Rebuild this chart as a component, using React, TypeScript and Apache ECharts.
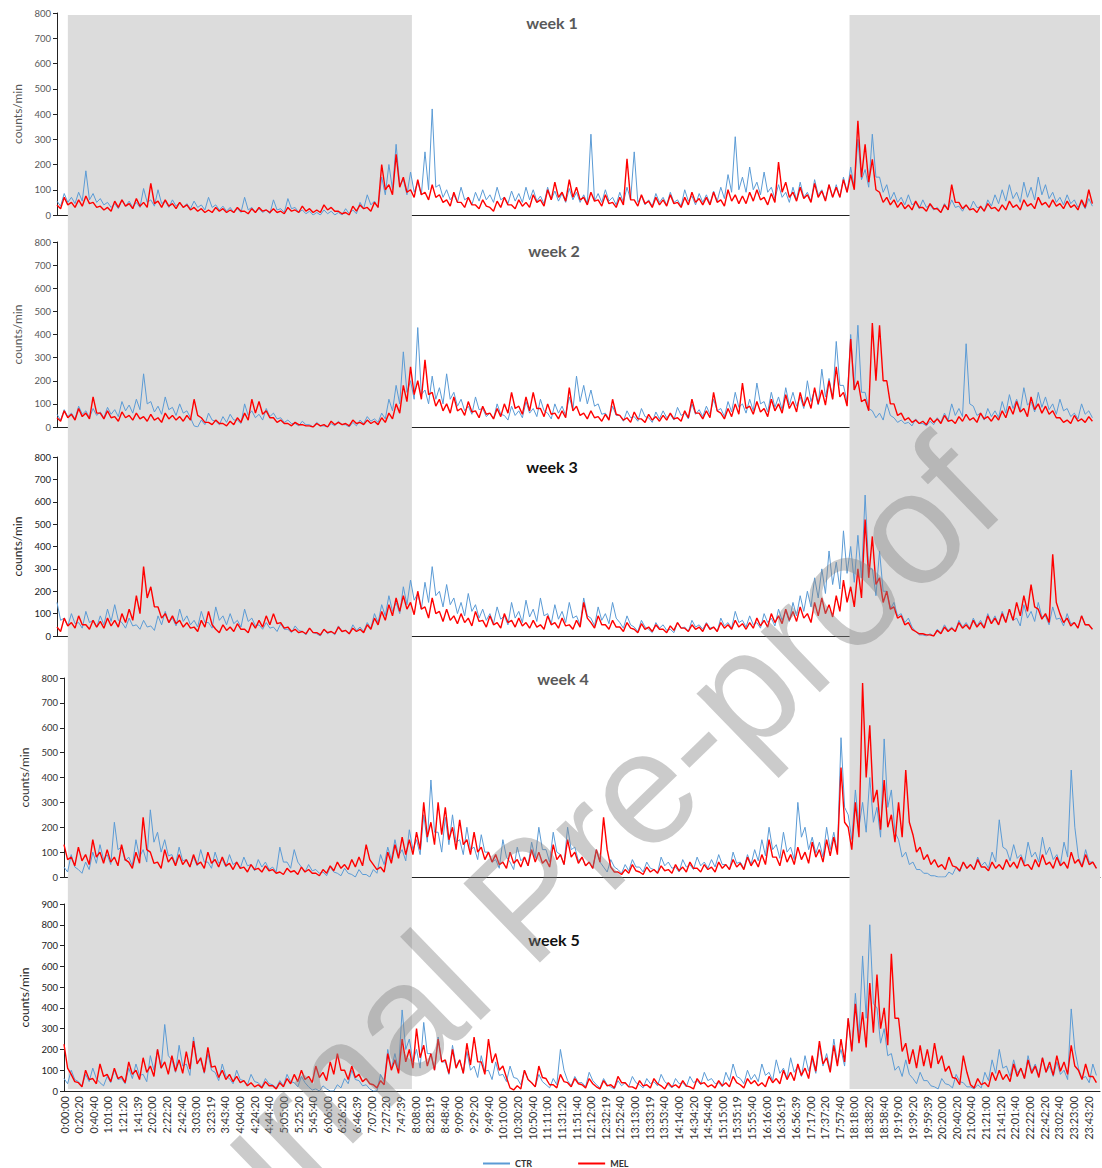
import React, { useEffect, useRef } from "react";
import * as echarts from "echarts";

// ---------- data ----------
const tickLabels = [
  "0:00:00","0:20:20","0:40:40","1:01:00","1:21:20","1:41:39","2:02:00","2:22:20","2:42:40","3:03:00",
  "3:23:19","3:43:40","4:04:00","4:24:20","4:44:40","5:05:00","5:25:20","5:45:40","6:06:00","6:26:20",
  "6:46:39","7:07:00","7:27:20","7:47:39","8:08:00","8:28:19","8:48:40","9:09:00","9:29:20","9:49:40",
  "10:10:00","10:30:20","10:50:40","11:11:00","11:31:20","11:51:40","12:12:00","12:32:19","12:52:40","13:13:00",
  "13:33:19","13:53:40","14:14:00","14:34:20","14:54:40","15:15:00","15:35:19","15:55:40","16:16:00","16:36:19",
  "16:56:39","17:17:00","17:37:20","17:57:40","18:18:00","18:38:20","18:58:40","19:19:00","19:39:20","19:59:39",
  "20:20:00","20:40:20","21:00:40","21:21:00","21:41:20","22:01:40","22:22:00","22:42:20","23:02:40","23:23:00",
  "23:43:20",
];
const TICK_STEP = 1220; // seconds between tick labels
const SAMPLE_STEP = 600; // seconds between upper-envelope readings (10 min)
const HALF_STEP = 300; // lower-envelope readings sit between them
const DAY = 86400;

const weekNames = ["week 1", "week 2", "week 3", "week 4", "week 5"];
const yMaxes = [800, 800, 800, 800, 900];
const nightBands = [[900, 29400], [65650, 86400]];

// upper readings (every 10 min, from 0:00)
const ctrW1 = [
  55,85,70,90,175,85, 65,50,45,60,55,50, 105,60,100,55,60,50, 45,55,40,70,40,35,
  30,25,70,30,25,20, 60,25,65,30,20,15, 10,20,15,10,25,20, 50,80,55,150,200,280,
  140,170,130,250,420,120, 100,80,110,70,90,100, 80,110,70,95,85,110, 100,75,110,95,85,105,
  90,80,320,85,100,70, 90,110,250,75,60,85, 70,90,60,100,75,85, 80,95,110,160,310,150,
  190,130,170,110,120,90, 110,130,90,140,100,120, 120,150,190,300,180,320, 150,120,90,70,80,50,
  60,40,30,45,60,35, 40,55,30,60,80,100, 120,90,130,110,150,120, 90,70,80,60,50,65,
];
const melW1 = [
  40,70,50,60,75,50, 35,30,55,60,45,65, 50,125,55,60,45,50, 40,30,25,20,30,25,
  20,30,15,25,30,20, 25,15,30,20,35,25, 20,40,30,15,10,35, 40,30,50,200,120,240,
  150,100,140,90,120,80, 60,90,50,70,40,60, 30,55,70,40,60,50, 80,60,100,130,90,140,
  110,70,90,60,80,50, 70,223,60,80,55,70, 60,80,50,70,90,65, 70,90,60,100,80,75,
  90,100,70,85,210,130, 90,110,80,125,95,120, 110,140,160,373,280,220, 90,70,60,50,40,55,
  30,45,25,40,120,50, 40,25,35,45,30,40, 55,40,60,45,70,50, 60,45,55,40,60,100,
];
const ctrW2 = [
  55,75,60,90,70,80, 65,85,75,110,95,120, 230,110,90,130,85,100, 70,5,30,60,25,45,
  55,30,100,70,55,80, 60,40,30,15,25,10, 20,5,15,25,10,20, 30,45,35,60,120,180,
  325,200,430,160,220,170, 230,150,120,90,130,80, 60,100,50,90,70,110, 80,120,60,100,90,130,
  220,180,160,100,60,90, 50,70,45,80,40,65, 70,55,85,60,100,75, 90,120,80,110,150,100,
  120,190,110,150,130,170, 150,130,200,160,250,210, 370,180,400,440,150,70, 60,100,40,30,20,35,
  15,25,40,60,100,80, 360,90,60,80,70,110, 140,120,170,110,150,130, 100,120,80,60,100,70,
];
const melW2 = [
  40,70,55,80,60,130, 60,70,45,65,50,60, 45,55,40,60,50,45, 50,120,40,20,30,15,
  25,40,60,120,110,70, 40,30,15,20,10,5, 15,10,25,20,15,30, 20,30,25,40,60,100,
  180,260,200,290,150,120, 100,130,80,110,70,90, 60,80,100,150,90,130, 150,80,100,60,70,170,
  90,60,70,45,55,120, 50,40,65,35,55,45, 50,60,40,70,120,60, 70,150,60,80,100,190,
  90,110,80,120,100,140, 110,150,130,170,160,200, 260,150,380,200,120,450, 440,200,100,60,40,30,
  25,40,35,50,30,45, 55,40,60,45,50,70, 90,110,80,130,100,90, 70,40,30,50,35,45,
];
const ctrW3 = [
  150,80,100,60,110,70, 90,120,140,60,80,50, 70,45,90,110,80,120, 90,70,110,60,130,90,
  100,70,120,80,50,60, 40,55,30,45,20,35, 10,30,20,45,25,50, 40,60,100,140,180,150,
  220,250,190,240,310,200, 230,170,150,190,140,120, 100,130,90,150,110,160, 120,170,100,140,110,150,
  90,170,80,130,100,150, 60,90,40,70,30,60, 50,30,60,40,70,50, 60,40,80,60,110,70,
  90,60,100,80,120,110, 150,180,200,260,300,380, 330,470,400,450,630,300, 380,200,150,100,80,20,
  5,10,30,50,40,70, 60,80,70,100,90,110, 120,80,140,110,150,90, 130,80,100,60,90,50,
];
const melW3 = [
  40,80,60,90,50,70, 65,80,70,100,120,180, 310,220,130,100,90,70, 60,40,70,110,30,50,
  40,55,30,60,70,90, 100,60,40,30,20,35, 15,30,20,40,25,35, 30,50,80,110,140,170,
  180,150,200,130,170,110, 120,90,100,80,110,70, 90,60,100,70,80,60, 70,50,90,60,80,50,
  70,150,60,90,50,70, 40,60,30,55,40,50, 30,45,60,35,50,40, 55,40,60,50,70,55,
  60,80,70,100,90,120, 110,130,100,150,170,140, 180,250,220,300,520,445, 260,200,130,90,60,20,
  10,5,25,40,35,60, 50,70,60,90,80,100, 120,150,180,230,120,100, 365,100,80,60,90,50,
];
const ctrW4 = [
  40,90,30,60,100,130, 90,220,120,80,150,110, 270,180,150,90,120,70, 80,110,60,100,70,90,
  60,80,50,70,60,40, 120,60,110,40,50,30, 20,40,15,35,10,30, 10,30,90,120,150,110,
  190,150,250,390,180,240, 250,150,200,120,170,100, 70,150,60,120,80,140, 200,110,180,90,200,120,
  80,60,110,40,70,30, 50,70,40,60,30,80, 60,40,70,50,80,60, 70,90,50,100,60,90,
  110,150,200,130,180,120, 300,200,160,140,200,180, 560,250,350,300,400,280, 555,350,150,100,60,30,
  15,5,0,20,40,60, 50,80,60,100,230,110, 130,90,140,100,160,120, 90,140,430,80,110,60,
];
const melW4 = [
  130,80,120,90,150,100, 110,80,130,60,100,240, 100,60,110,80,90,70, 90,60,100,70,80,55,
  60,40,50,35,45,30, 20,35,25,40,30,15, 30,45,60,50,70,80, 130,50,40,100,130,160,
  150,180,300,220,300,280, 200,230,150,180,120,100, 90,60,100,70,80,110, 100,70,130,90,150,100,
  80,60,110,240,40,20, 30,50,20,40,30,45, 30,50,40,60,35,50, 40,60,50,70,55,80,
  70,90,150,80,110,90, 120,100,140,110,150,160, 440,200,300,780,610,350, 390,250,300,430,170,120,
  90,70,50,80,40,60, 50,70,40,60,50,70, 60,80,50,70,90,60, 80,60,100,70,90,60,
];
const ctrW5 = [
  60,100,45,80,110,40, 70,100,60,110,130,80, 170,200,320,150,220,130, 260,150,180,90,130,60,
  100,50,80,40,60,30, 50,80,40,70,20,10, 25,0,30,60,100,50, 30,0,80,200,180,390,
  250,200,330,180,260,140, 220,150,190,120,170,100, 140,80,120,60,100,40, 80,30,60,200,50,70,
  40,90,30,60,20,50, 40,70,30,60,45,80, 30,60,40,70,50,90, 60,40,90,130,60,100,
  80,130,90,150,110,160, 120,170,150,220,180,250, 200,350,470,650,800,400, 300,180,120,150,60,90,
  50,20,60,30,80,40, 20,30,90,150,200,120, 150,110,170,130,160,120, 140,100,395,110,70,130,
];
const melW5 = [
  225,80,40,100,60,130, 80,110,70,140,100,160, 120,200,140,170,150,190, 240,160,210,120,100,80,
  70,50,40,30,45,25, 40,60,80,100,70,120, 90,140,180,100,120,80, 60,30,50,180,150,250,
  200,300,220,180,250,150, 200,150,230,260,140,250, 180,120,15,25,100,40, 120,60,30,80,40,60,
  30,60,20,50,30,70, 40,20,50,30,60,25, 40,30,50,20,60,40, 30,50,40,70,30,60,
  50,40,70,60,100,90, 130,110,170,240,160,220, 250,350,420,380,520,560, 400,660,350,230,200,220,
  200,230,170,120,60,170, 30,60,40,90,100,80, 130,110,150,120,160,140, 170,140,220,100,130,70,
];

// lower readings (5 min after each upper reading)
const ctrW1Lo = [
  35,50,45,55,60,50, 40,30,25,35,30,30, 50,35,45,30,35,30, 25,30,20,30,20,15,
  10,10,20,10,10,5, 20,10,25,10,5,0, 0,5,0,0,5,5, 25,40,30,80,100,120,
  80,90,80,100,110,70, 60,50,60,40,55,60, 50,60,45,55,50,60, 55,45,60,55,50,60,
  50,45,55,50,55,40, 50,60,50,40,35,50, 40,50,35,55,40,50, 45,55,65,90,100,90,
  100,80,90,65,70,50, 60,70,55,80,60,70, 70,90,110,140,110,150, 90,60,50,40,40,25,
  30,20,10,20,30,15, 20,30,15,35,45,55, 65,50,70,60,80,65, 50,40,45,30,25,35,
];
const melW1Lo = [
  25,40,30,35,45,30, 20,15,30,35,25,35, 30,45,30,35,25,30, 20,15,10,10,15,10,
  10,15,5,10,15,10, 10,5,15,10,15,10, 10,20,15,5,0,15, 25,15,30,100,80,110,
  90,70,80,60,70,50, 35,50,30,40,25,35, 15,30,40,25,35,30, 50,35,60,70,55,70,
  60,40,55,35,45,30, 40,60,35,45,30,40, 35,45,30,40,50,40, 40,50,35,55,45,45,
  55,60,40,50,90,70, 55,65,50,70,55,70, 70,90,100,150,130,100, 50,40,30,25,20,30,
  15,25,10,20,50,25, 20,10,15,25,15,20, 30,20,35,25,40,30, 35,25,30,20,30,45,
];
const ctrW2Lo = [
  30,45,35,55,40,50, 40,55,45,70,60,75, 100,65,55,75,50,60, 40,0,10,30,10,20,
  30,15,50,40,30,45, 35,20,15,5,10,0, 5,0,5,10,0,5, 15,25,20,35,70,100,
  150,120,140,100,120,100, 120,90,70,55,75,45, 35,55,30,50,40,60, 45,70,35,60,50,75,
  110,100,90,55,35,50, 25,40,25,45,20,35, 40,30,50,35,55,45, 55,70,45,65,85,60,
  70,100,65,85,75,95, 90,80,110,95,130,120, 180,110,160,150,80,40, 30,50,20,15,5,15,
  5,10,20,30,50,45, 100,50,30,45,40,60, 80,70,95,65,85,75, 55,70,45,35,55,40,
];
const melW2Lo = [
  25,40,30,45,35,60, 35,40,25,40,30,35, 25,30,20,35,30,25, 30,50,20,10,15,5,
  10,20,30,60,55,40, 20,15,5,10,5,0, 5,0,10,10,5,15, 10,15,10,20,35,60,
  110,140,120,140,90,70, 60,70,50,65,40,55, 35,45,60,80,55,70, 80,45,55,35,40,70,
  50,35,40,25,30,55, 30,20,35,20,30,25, 30,35,25,40,60,35, 40,70,35,45,55,80,
  55,65,45,70,60,80, 65,90,80,100,95,120, 130,90,160,110,70,200, 200,100,50,30,20,15,
  10,20,15,25,15,25, 30,20,35,25,30,40, 55,65,45,75,60,55, 40,20,15,25,20,25,
];
const ctrW3Lo = [
  70,45,55,35,60,40, 50,65,70,35,45,30, 40,25,50,60,45,65, 50,40,60,35,70,50,
  55,40,65,45,30,35, 20,30,15,25,5,15, 0,10,5,20,10,25, 20,35,60,90,110,100,
  140,160,120,150,180,130, 140,100,90,110,80,70, 55,75,50,80,60,85, 65,90,55,75,60,80,
  50,90,45,70,55,80, 35,50,20,40,15,35, 25,15,35,20,40,30, 35,20,45,35,60,40,
  50,35,60,45,70,65, 90,110,130,170,190,230, 210,280,240,260,300,180, 200,120,90,60,40,5,
  0,0,15,25,20,40, 35,45,40,60,50,65, 70,45,80,65,85,50, 75,45,55,35,50,30,
];
const melW3Lo = [
  20,45,35,50,30,40, 35,45,40,60,70,100, 170,130,80,60,55,40, 35,20,40,50,15,25,
  20,30,15,35,40,50, 55,35,20,15,10,15, 5,15,10,20,10,20, 15,30,50,70,90,110,
  120,95,120,80,100,65, 70,55,60,45,65,40, 50,35,60,40,45,35, 40,30,50,35,45,30,
  40,80,35,50,30,40, 20,35,15,30,20,30, 15,25,35,20,30,20, 30,20,35,30,40,30,
  35,45,40,60,55,70, 65,80,60,90,100,85, 110,150,130,170,260,230, 150,120,80,50,30,10,
  5,0,10,20,20,35, 30,40,35,55,50,60, 70,90,110,130,75,60, 150,60,45,35,50,30,
];
const ctrW4Lo = [
  20,40,15,30,55,70, 50,110,65,45,80,60, 140,100,85,50,65,40, 45,60,35,55,40,50,
  35,45,25,40,30,20, 60,35,60,20,25,15, 5,20,5,15,0,10, 0,15,50,70,85,65,
  110,90,140,180,100,130, 140,90,110,70,100,60, 35,80,30,65,45,75, 110,60,100,50,110,65,
  45,35,60,20,40,15, 25,40,20,35,15,45, 35,20,40,30,45,35, 40,50,30,55,35,50,
  65,85,110,75,100,70, 160,110,95,80,110,100, 280,150,200,180,220,160, 280,180,80,50,30,15,
  5,0,0,10,20,35, 30,45,35,60,120,65, 75,55,80,60,90,70, 50,80,200,45,60,35,
];
const melW4Lo = [
  70,45,65,50,80,55, 60,45,70,35,55,110, 55,35,60,45,50,40, 50,35,55,40,45,30,
  35,20,30,20,25,15, 10,20,10,20,15,5, 15,25,35,30,40,45, 70,30,20,55,75,90,
  90,110,160,130,170,150, 110,130,90,100,70,60, 50,35,55,40,45,60, 55,40,70,50,80,55,
  45,35,60,110,20,10, 15,25,10,20,15,25, 15,25,20,35,20,30, 20,35,30,40,30,45,
  40,50,80,45,60,50, 70,55,80,60,85,90, 220,110,160,400,300,190, 200,140,160,220,100,70,
  50,40,30,45,25,35, 30,40,25,35,30,40, 35,45,30,40,50,35, 45,35,55,40,50,35,
];
const ctrW5Lo = [
  35,55,25,45,60,25, 40,55,35,60,75,45, 100,110,170,90,120,75, 140,85,100,50,70,35,
  55,30,45,20,35,15, 25,45,20,40,5,0, 10,0,15,35,55,25, 10,0,45,110,100,200,
  140,110,180,100,140,80, 120,85,100,65,95,55, 75,45,65,30,55,20, 45,15,30,100,25,40,
  20,50,15,30,10,25, 20,40,15,35,25,45, 15,35,20,40,30,50, 35,20,50,70,35,55,
  45,75,50,85,60,90, 70,95,85,120,100,140, 120,200,260,350,420,230, 170,100,70,80,35,50,
  25,10,35,15,45,20, 10,15,50,85,110,70, 85,60,95,75,90,70, 80,55,200,60,40,75,
];
const melW5Lo = [
  110,45,20,55,35,70, 45,60,40,80,55,90, 70,110,80,95,85,105, 130,90,115,65,55,45,
  40,25,20,15,25,10, 20,35,45,55,40,65, 50,80,100,55,65,45, 35,15,30,100,85,140,
  110,160,120,100,140,85, 110,85,125,140,80,135, 100,65,5,10,55,20, 65,30,15,45,20,35,
  15,35,10,25,15,40, 20,10,25,15,35,10, 20,15,25,10,35,20, 15,25,20,40,15,35,
  25,20,40,35,55,50, 75,60,95,130,90,120, 140,190,230,210,280,300, 220,350,190,130,110,120,
  110,130,95,65,30,90, 15,30,20,50,55,45, 70,60,85,65,90,75, 95,80,120,55,70,40,
];

const ctrWeeks = [ctrW1, ctrW2, ctrW3, ctrW4, ctrW5];
const melWeeks = [melW1, melW2, melW3, melW4, melW5];
const ctrWeeksLo = [ctrW1Lo, ctrW2Lo, ctrW3Lo, ctrW4Lo, ctrW5Lo];
const melWeeksLo = [melW1Lo, melW2Lo, melW3Lo, melW4Lo, melW5Lo];

// ---------- layout / style ----------
const panels = [
  { left: 57, top: 13, width: 1039, height: 202, title: [552, 22], tColor: "#595959", aColor: "#595959" },
  { left: 57, top: 242, width: 1039, height: 185, title: [554, 250], tColor: "#595959", aColor: "#595959" },
  { left: 57, top: 457, width: 1039, height: 179, title: [552, 466], tColor: "#111111", aColor: "#222222" },
  { left: 64, top: 678, width: 1036, height: 199, title: [563, 678], tColor: "#595959", aColor: "#333333" },
  { left: 64, top: 904, width: 1036, height: 187, title: [554, 939], tColor: "#111111", aColor: "#222222" },
];
const CTR_COLOR = "#5B9BD5";
const MEL_COLOR = "#FF0000";
const FONT = "Lato";

function labelFor(v: number): string {
  const k = Math.round(v / TICK_STEP);
  if (Math.abs(k * TICK_STEP - v) > 1) return "";
  return tickLabels[k] ?? "";
}

function toPoints(hi: number[], lo: number[]): number[][] {
  const out: number[][] = [];
  hi.forEach((v, k) => {
    out.push([k * SAMPLE_STEP, v]);
    if (lo[k] !== undefined) out.push([k * SAMPLE_STEP + HALF_STEP, lo[k]]);
  });
  return out;
}

export default function App() {
  const ref = useRef<HTMLDivElement>(null);

  useEffect(() => {
    document.body.style.margin = "0";
    if (!ref.current) return;
    const chart = echarts.init(ref.current, undefined, { renderer: "svg" });

    const grids: any[] = [];
    const xAxes: any[] = [];
    const yAxes: any[] = [];
    const series: any[] = [];

    panels.forEach((p, i) => {
      grids.push({ left: p.left, top: p.top, width: p.width, height: p.height, outerBoundsMode: "none", containLabel: false });
      const last = i === panels.length - 1;
      xAxes.push({
        type: "value",
        gridIndex: i,
        min: 0,
        max: DAY,
        interval: TICK_STEP,
        axisLine: { show: true, onZero: false, lineStyle: { color: "#222", width: 1 } },
        axisTick: { show: false },
        splitLine: { show: false },
        axisLabel: last
          ? {
              show: true,
              rotate: 90,
              margin: 5,
              fontSize: 11,
              fontFamily: FONT,
              color: "#333",
              formatter: labelFor,
            }
          : { show: false },
      });
      yAxes.push({
        type: "value",
        gridIndex: i,
        min: 0,
        max: yMaxes[i],
        interval: 100,
        name: "counts/min",
        nameLocation: "middle",
        nameGap: 32,
        nameTextStyle: { fontSize: 12, fontFamily: FONT, color: p.aColor },
        axisLine: { show: true, lineStyle: { color: "#222", width: 1 } },
        axisTick: { show: true, length: 4, lineStyle: { color: "#222" } },
        splitLine: { show: false },
        axisLabel: { fontSize: 9.5, fontFamily: FONT, color: p.aColor, margin: 6 },
      });
      series.push({
        name: "CTR",
        type: "line",
        xAxisIndex: i,
        yAxisIndex: i,
        symbol: "none",
        showSymbol: false,
        z: 3,
        lineStyle: { color: CTR_COLOR, width: 1 },
        itemStyle: { color: CTR_COLOR },
        data: toPoints(ctrWeeks[i], ctrWeeksLo[i]),
      });
      series.push({
        name: "MEL",
        type: "line",
        xAxisIndex: i,
        yAxisIndex: i,
        symbol: "none",
        showSymbol: false,
        z: 4,
        lineStyle: { color: MEL_COLOR, width: 1.4 },
        itemStyle: { color: MEL_COLOR },
        data: toPoints(melWeeks[i], melWeeksLo[i]),
      });
    });

    // shading grid (night periods) spanning all panels
    const sIdx = panels.length;
    grids.push({ left: 57, top: 15, width: 1043, height: 1074, outerBoundsMode: "none", containLabel: false });
    xAxes.push({ type: "value", gridIndex: sIdx, min: 0, max: DAY, show: false, splitLine: { show: false } });
    yAxes.push({ type: "value", gridIndex: sIdx, min: 0, max: 1, show: false, splitLine: { show: false } });
    series.push({
      name: "night",
      type: "line",
      xAxisIndex: sIdx,
      yAxisIndex: sIdx,
      symbol: "none",
      z: 1,
      silent: true,
      lineStyle: { opacity: 0 },
      data: [[0, 0]],
      markArea: {
        silent: true,
        itemStyle: { color: "#DCDCDC" },
        data: nightBands.map(([a, b]) => [{ xAxis: a }, { xAxis: b }]),
      },
    });

    const graphics: any[] = panels.map((p, i) => ({
      type: "text",
      x: p.title[0],
      y: p.title[1],
      z: 50,
      style: {
        text: weekNames[i],
        fill: p.tColor,
        fontSize: 16,
        fontWeight: "bold",
        fontFamily: FONT,
        align: "center",
        verticalAlign: "middle",
      },
    }));
    graphics.push({
      type: "text",
      x: 527,
      y: 898,
      rotation: (44 * Math.PI) / 180,
      z: 100,
      silent: true,
      style: {
        text: "Journal Pre-proof",
        fill: "rgba(130,130,130,0.42)",
        fontSize: 160,
        fontFamily: "Liberation Sans",
        align: "center",
        verticalAlign: "middle",
      },
    });

    chart.setOption({
      animation: false,
      backgroundColor: "#ffffff",
      grid: grids,
      xAxis: xAxes,
      yAxis: yAxes,
      series,
      legend: {
        data: ["CTR", "MEL"],
        left: 478,
        top: 1154,
        icon: "rect",
        itemWidth: 27,
        itemHeight: 2,
        itemGap: 46,
        textStyle: { fontSize: 9, fontWeight: "bold", fontFamily: FONT, color: "#333" },
      },
      graphic: graphics,
    });

    return () => chart.dispose();
  }, []);

  return <div ref={ref} style={{ width: 1102, height: 1168, overflow: "hidden" }} />;
}
